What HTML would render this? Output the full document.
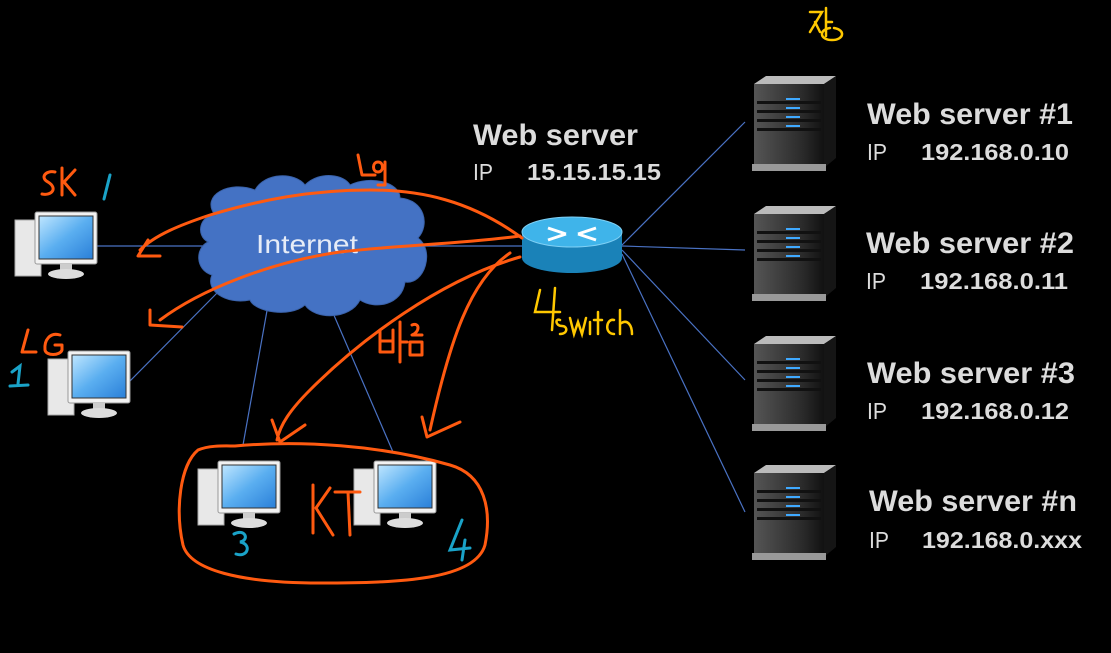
<!DOCTYPE html>
<html><head><meta charset="utf-8"><style>
html,body{margin:0;padding:0;background:#000;}
svg{display:block}
</style></head><body>
<svg width="1111" height="653" viewBox="0 0 1111 653" xmlns="http://www.w3.org/2000/svg">
<defs>
<linearGradient id="scr" x1="0" y1="0" x2="1" y2="1"><stop offset="0" stop-color="#bfe6ff"/><stop offset="0.5" stop-color="#5aaef0"/><stop offset="1" stop-color="#2a7fd8"/></linearGradient>
<linearGradient id="srv" x1="0" y1="0" x2="1" y2="0"><stop offset="0" stop-color="#555"/><stop offset="0.7" stop-color="#2a2a2a"/><stop offset="1" stop-color="#111"/></linearGradient>
<g id="pc">
<rect x="0" y="8" width="26" height="56" fill="#e8e8e8" stroke="#aaa"/>
<rect x="20" y="0" width="62" height="52" rx="2" fill="#f2f2f2" stroke="#999"/>
<rect x="24" y="4" width="54" height="43" fill="url(#scr)" stroke="#333"/>
<rect x="45" y="52" width="12" height="7" fill="#ccc"/>
<ellipse cx="51" cy="62" rx="18" ry="5" fill="#ddd"/>
</g>
<g id="server">
<polygon points="0,8 12,0 82,0 70,8" fill="#bbb"/>
<rect x="0" y="8" width="70" height="84" fill="url(#srv)"/>
<polygon points="70,8 82,0 82,82 70,92" fill="#151515"/>
<g fill="#111"><rect x="3" y="25" width="64" height="3"/><rect x="3" y="34" width="64" height="3"/><rect x="3" y="43" width="64" height="3"/><rect x="3" y="52" width="64" height="3"/></g>
<g fill="#3fa9ff"><rect x="32" y="22" width="14" height="2"/><rect x="32" y="31" width="14" height="2"/><rect x="32" y="40" width="14" height="2"/><rect x="32" y="49" width="14" height="2"/></g>
<rect x="-2" y="88" width="74" height="7" fill="#999"/>
</g>
</defs>

<g stroke="#4a72c4" stroke-width="1.2" fill="none">
<line x1="97" y1="246" x2="205" y2="246"/>
<line x1="425" y1="246" x2="524" y2="246"/>
<line x1="128" y1="383" x2="220" y2="290"/>
<line x1="243" y1="445" x2="268" y2="305"/>
<line x1="393" y1="452" x2="333" y2="313"/>
<line x1="622" y1="245" x2="745" y2="122"/>
<line x1="622" y1="246" x2="745" y2="250"/>
<line x1="622" y1="250" x2="745" y2="380"/>
<line x1="622" y1="254" x2="745" y2="512"/>
</g>

<g fill="#4472c4" stroke="#3a62aa" stroke-width="1">
<path d="M215,215 C200,195 230,180 255,190 C265,172 295,172 305,185 C320,170 345,175 350,185 C370,175 400,182 400,198 C425,200 430,225 418,238 C435,250 425,285 405,282 C402,305 375,310 360,300 C350,320 315,320 305,305 C290,318 255,312 250,300 C225,305 205,290 212,275 C195,270 195,248 208,242 C195,235 200,215 215,215 Z"/>
</g>
<text x="307" y="253" font-family="Liberation Sans, sans-serif" font-size="26" fill="#e6ecf7" text-anchor="middle" textLength="102" lengthAdjust="spacingAndGlyphs">Internet</text>

<path d="M522,232 L522,258 A50,15 0 0 0 622,258 L622,232 Z" fill="#1a82b8"/>
<ellipse cx="572" cy="232" rx="50" ry="15" fill="#3fb4ea" stroke="#7fd0f5"/>
<g stroke="#fff" stroke-width="3"><line x1="548" y1="228" x2="566" y2="234"/><line x1="596" y1="228" x2="578" y2="234"/><line x1="548" y1="240" x2="566" y2="234"/><line x1="596" y1="240" x2="578" y2="234"/></g>

<use href="#pc" x="15" y="212"/>
<use href="#pc" x="48" y="351"/>
<use href="#pc" x="198" y="461"/>
<use href="#pc" x="354" y="461"/>

<use href="#server" x="754" y="76"/>
<use href="#server" x="754" y="206"/>
<use href="#server" x="754" y="336"/>
<use href="#server" x="754" y="465"/>

<g font-family="Liberation Sans, sans-serif" fill="#dcdcdc" lengthAdjust="spacingAndGlyphs">
<text x="473" y="145" font-size="30" font-weight="bold" textLength="165" lengthAdjust="spacingAndGlyphs">Web server</text>
<text x="473" y="180" font-size="23" textLength="20" lengthAdjust="spacingAndGlyphs">IP</text>
<text x="527" y="180" font-size="23" font-weight="bold" textLength="134" lengthAdjust="spacingAndGlyphs">15.15.15.15</text>
<text x="867" y="124" font-size="30" font-weight="bold" textLength="206" lengthAdjust="spacingAndGlyphs">Web server #1</text>
<text x="867" y="160" font-size="23" textLength="20" lengthAdjust="spacingAndGlyphs">IP</text>
<text x="921" y="160" font-size="23" font-weight="bold" textLength="148" lengthAdjust="spacingAndGlyphs">192.168.0.10</text>
<text x="866" y="253" font-size="30" font-weight="bold" textLength="208" lengthAdjust="spacingAndGlyphs">Web server #2</text>
<text x="866" y="289" font-size="23" textLength="20" lengthAdjust="spacingAndGlyphs">IP</text>
<text x="920" y="289" font-size="23" font-weight="bold" textLength="148" lengthAdjust="spacingAndGlyphs">192.168.0.11</text>
<text x="867" y="383" font-size="30" font-weight="bold" textLength="208" lengthAdjust="spacingAndGlyphs">Web server #3</text>
<text x="867" y="419" font-size="23" textLength="20" lengthAdjust="spacingAndGlyphs">IP</text>
<text x="921" y="419" font-size="23" font-weight="bold" textLength="148" lengthAdjust="spacingAndGlyphs">192.168.0.12</text>
<text x="869" y="511" font-size="30" font-weight="bold" textLength="208" lengthAdjust="spacingAndGlyphs">Web server #n</text>
<text x="869" y="548" font-size="23" textLength="20" lengthAdjust="spacingAndGlyphs">IP</text>
<text x="922" y="548" font-size="23" font-weight="bold" textLength="160" lengthAdjust="spacingAndGlyphs">192.168.0.xxx</text>
</g>

<g fill="none" stroke="#ff5a10" stroke-width="3" stroke-linecap="round" stroke-linejoin="round">
<path d="M522,238 C470,200 420,190 370,190 C310,190 260,200 210,215 C180,225 155,235 140,250 M148,240 L138,256 L160,256"/>
<path d="M520,236 C460,244 400,245 340,252 C270,262 200,290 160,320 M150,310 L150,325 L182,327"/>
<path d="M520,257 C440,280 360,340 310,390 C290,410 280,425 277,440 M272,420 L280,442 L305,425"/>
<path d="M510,253 C470,280 450,340 430,430 M422,417 L427,437 L460,422"/>
<path d="M235,446 C300,440 380,445 450,465 C485,475 492,510 485,545 C475,580 400,583 320,583 C240,583 190,570 183,545 C175,510 180,465 198,450 C210,445 225,446 235,446 Z"/>
<path d="M55,172 C45,170 40,178 48,182 C58,188 52,196 42,194 M62,168 L62,195 M75,170 L64,182 L75,195"/>
<path d="M28,330 L22,352 L36,352 M60,335 C50,332 44,340 45,350 C46,356 60,356 62,350 L62,345 L55,345"/>
<path d="M313,485 L313,533 M330,488 L316,508 L333,535 M335,492 L360,492 M348,492 L350,535"/>
<path d="M380,330 L380,352 L393,352 L393,330 M380,341 L393,341 M400,322 L400,362 M400,342 L407,342 M412,325 C420,322 420,332 412,335 L422,335 M410,342 L422,342 L422,355 L410,355 Z"/>
<path d="M358,155 L362,175 L375,175 M378,162 C372,162 372,172 378,172 C384,172 384,162 378,162 M385,162 L385,185 L378,185"/>
</g>
<g fill="none" stroke="#ffc800" stroke-width="2.5" stroke-linecap="round">
<path d="M540,290 L535,312 L560,312 M555,288 L552,330 M560,320 C555,318 555,326 562,326 C568,326 568,334 560,334 M570,318 L574,334 L578,322 L582,334 L586,318 M590,322 L590,334 M598,312 L598,334 M594,320 L602,320 M614,320 C606,318 604,334 614,334 M620,310 L620,334 M620,324 C628,318 632,326 632,334"/>
<path d="M810,12 L822,12 L810,32 M815,22 L820,32 M826,8 L826,36 M826,22 L832,22 M830,28 C818,30 820,40 832,40 C844,40 846,30 834,28"/>
</g>
<g fill="none" stroke="#1aa3c8" stroke-width="3" stroke-linecap="round">
<path d="M110,175 L104,199"/>
<path d="M12,372 L20,366 L18,384 M10,386 L28,385"/>
<path d="M234,534 C245,528 250,540 240,542 C252,544 248,558 236,554"/>
<path d="M462,520 L450,550 L470,548 M465,540 L462,560"/>
</g>
</svg>
</body></html>
